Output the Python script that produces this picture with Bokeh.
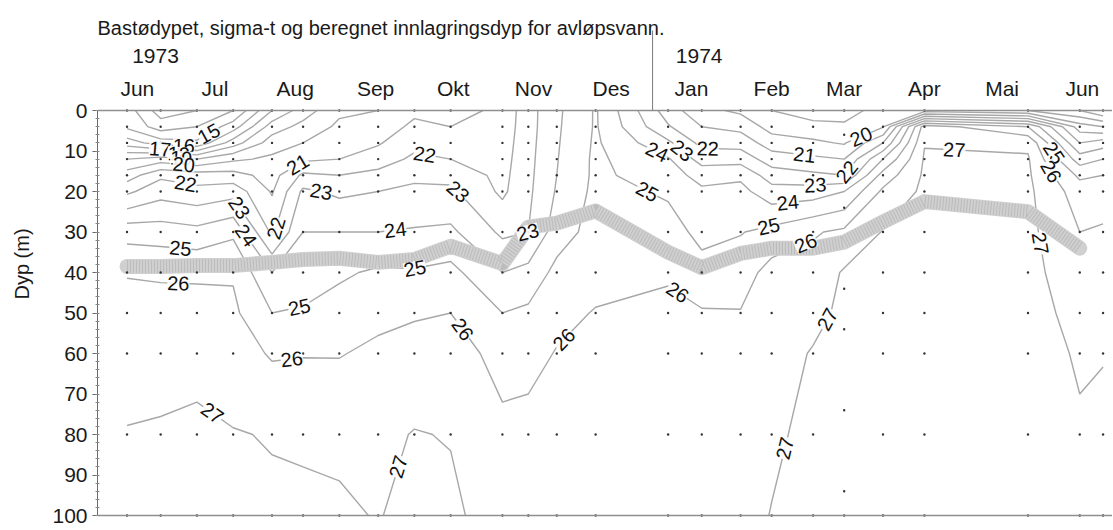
import numpy as np
from bokeh.plotting import figure
from bokeh.models import Range1d, FixedTicker, Span
from bokeh.core.properties import value
from bokeh.embed import file_html
from bokeh.resources import INLINE
from contourpy import contour_generator

# ---------------- data ----------------
station_dates = ["1973-06-12", "1973-06-25", "1973-07-09", "1973-07-23", "1973-08-07",
                 "1973-08-19", "1973-09-02", "1973-09-17", "1973-10-01", "1973-10-15",
                 "1973-11-04", "1973-11-14", "1973-11-25", "1973-12-10", "1974-01-07",
                 "1974-01-20", "1974-02-04", "1974-02-16", "1974-03-04", "1974-03-16",
                 "1974-03-31", "1974-04-16", "1974-05-26", "1974-06-15", "1974-06-24"]
depths = [0, 4, 8, 12, 16, 20, 30, 40, 50, 60, 80, 100]

# sigma-t per station (rows) at the depths above
sigma_t = [
    [14.5, 14.8, 16.5, 19.0, 20.5, 21.8, 24.6, 25.95, 26.3, 26.6, 27.05, 27.2],
    [12.5, 13.5, 15.5, 19.5, 21.8, 22.6, 24.5, 25.9, 26.3, 26.65, 27.1, 27.25],
    [13.0, 14.0, 15.2, 19.0, 21.5, 22.3, 24.3, 25.9, 26.25, 26.85, 27.1, 27.25],
    [14.0, 15.5, 17.5, 19.8, 21.4, 22.6, 24.8, 25.9, 26.2, 26.45, 27.05, 27.2],
    [17.0, 18.5, 19.5, 20.2, 20.6, 20.9, 21.8, 24.0, 25.0, 25.9, 26.95, 27.15],
    [18.5, 19.3, 20.0, 20.8, 22.2, 23.2, 24.0, 24.5, 25.1, 25.95, 26.9, 27.15],
    [19.8, 20.2, 20.6, 21.0, 22.0, 22.8, 24.0, 24.85, 25.4, 25.95, 26.8, 27.15],
    [20.0, 20.5, 20.9, 21.5, 22.3, 23.0, 24.0, 25.15, 25.75, 26.2, 26.75, 26.95],
    [20.8, 21.2, 21.7, 22.2, 22.8, 23.2, 24.1, 25.1, 25.92, 26.3, 27.05, 27.3],
    [20.5, 21.0, 21.6, 22.0, 22.7, 23.2, 24.2, 25.3, 26.0, 26.4, 26.95, 27.2],
    [21.3, 21.4, 21.5, 21.6, 21.7, 21.8, 22.8, 24.0, 25.0, 25.7, 26.2, 26.5],
    [22.6, 22.6, 22.65, 22.7, 22.75, 22.8, 23.0, 24.3, 25.2, 25.7, 26.3, 26.6],
    [23.8, 23.85, 23.9, 23.95, 24.0, 24.1, 24.5, 25.3, 25.75, 26.05, 26.5, 26.75],
    [25.1, 25.1, 25.15, 25.2, 25.2, 25.25, 25.4, 25.7, 26.05, 26.2, 26.5, 26.8],
    [21.5, 22.1, 23.2, 24.1, 24.5, 24.9, 25.3, 25.9, 26.2, 26.4, 26.6, 26.8],
    [20.3, 21.0, 21.7, 22.6, 23.6, 24.2, 24.8, 25.25, 26.1, 26.3, 26.6, 26.8],
    [19.8, 20.7, 21.6, 22.6, 23.8, 24.3, 24.95, 25.5, 26.05, 26.3, 26.6, 26.8],
    [19.0, 19.6, 20.5, 21.5, 22.5, 23.4, 25.3, 26.4, 26.5, 26.7, 26.9, 27.02],
    [18.5, 19.3, 20.2, 21.2, 22.2, 23.5, 25.9, 26.4, 26.8, 27.05, 27.15, 27.2],
    [18.5, 19.2, 19.9, 21.0, 22.0, 24.0, 26.2, 27.1, 27.15, 27.2, 27.25, 27.3],
    [19.5, 19.9, 22.0, 24.0, 25.4, 26.2, 27.05, 27.15, 27.2, 27.25, 27.3, 27.35],
    [19.5, 26.5, 26.95, 27.1, 27.15, 27.2, 27.25, 27.3, 27.3, 27.35, 27.4, 27.45],
    [19.0, 25.0, 26.8, 27.1, 27.15, 27.2, 27.25, 27.3, 27.35, 27.4, 27.45, 27.5],
    [18.0, 20.5, 22.0, 23.5, 24.8, 25.5, 26.0, 26.4, 26.7, 26.9, 27.1, 27.2],
    [17.0, 20.0, 22.5, 24.0, 25.0, 25.6, 26.1, 26.5, 26.75, 26.98, 27.1, 27.2],
]
contour_levels = list(range(13, 28))

# calculated intrusion depth of waste water (m)
band_dates = station_dates[:24]
band_depth = [38.5, 38.5, 38.3, 38.3, 37.5, 36.8, 36.5, 37.5, 36.8, 33.5, 37.8, 28.8,
              27.8, 24.8, 35.0, 38.8, 35.3, 34.0, 34.0, 32.5, 27.5, 22.5, 25.0, 34.0]

# one station sampled at other depths
odd_station = "1974-03-16"
odd_station_depths = [0, 6, 24, 44, 54, 74, 94, 100]

months = ["Jun", "Jul", "Aug", "Sep", "Okt", "Nov", "Des",
          "Jan", "Feb", "Mar", "Apr", "Mai", "Jun"]
month_dates = ["1973-06-16", "1973-07-16", "1973-08-16", "1973-09-16", "1973-10-16",
               "1973-11-16", "1973-12-16", "1974-01-16", "1974-02-16", "1974-03-16",
               "1974-04-16", "1974-05-16", "1974-06-16"]
years = ["1973", "1974"]
year_dates = ["1973-06-23", "1974-01-19"]
year_break = "1974-01-01"
depth_ticks = list(range(0, 101, 10))
title_text = "Bastødypet, sigma-t og beregnet innlagringsdyp for avløpsvann."

# contour label hints: level, day (rel. 1974-01-01), depth
label_levels = [17, 16, 15, 18, 19, 20, 22, 21, 23, 22, 23, 24, 23, 22, 21, 20, 22, 24, 23,
                27, 25, 26, 25, 26, 23, 24, 22, 24, 25, 25, 23, 25, 26, 25, 26, 26, 26, 26,
                27, 27, 27, 27, 27]
label_days = [-190, -181, -170, -183, -182, -181, -180, -137.5, -127.5, -87.7, -69.5, 1.2,
              11.6, 21.2, 58.3, 82.3, 77.6, 52.1, 63, 116.6, 155.7, 158.4, -182.3, -183.1,
              -160.3, -157.2, -141, -99.3, -136, -91.5, -47.1, -4.6, 12, 45.6, 57.9, -72.2,
              -34.4, -139, -166, 67.6, 46.7, -100, 149.9]
label_depths = [7.8, 7.8, 7.3, 9.7, 11.2, 12.7, 16.5, 12.9, 18.2, 9.7, 16.5, 10.9, 9.7, 11.4,
                12.9, 9.2, 16.5, 21.9, 20.0, 9.0, 10.2, 13.4, 33.3, 41.4, 24.3, 30.9, 29.9,
                29.9, 49.9, 40.1, 32.8, 23.1, 42.6, 30.7, 30.9, 53.5, 56.4, 63.7, 71.0, 51.6,
                82.7, 87.6, 32.8]

# ---------------- helpers ----------------
ORIGIN = np.datetime64("1974-01-01")


def day(d):
    return float((np.datetime64(d) - ORIGIN).astype(int))


x_st = np.array([day(d) for d in station_dates])
y_dep = np.array(depths, dtype=float)
Z = np.array(sigma_t, dtype=float).T  # (ny, nx)

W, H = 1112, 529
LEFT, BOTTOM = 97, 2
Y0PX = 110          # screen row of depth 0
SX = 2.589          # px per day
SY = 4.05           # px per metre
X0 = -214.4
X1 = X0 + (W - LEFT) / SX
YTOP = -Y0PX / SY
YBOT = YTOP + (H - BOTTOM) / SY


def row(px):
    """depth value that sits at a given screen row"""
    return (px - Y0PX) / SY


FONT = value("Liberation Sans")
INK = "#1a1a1a"

p = figure(width=W, height=H, output_backend="svg", toolbar_location=None,
           x_range=Range1d(X0, X1), y_range=Range1d(YBOT, YTOP),
           x_axis_type=None, min_border_left=LEFT, min_border_right=0,
           min_border_bottom=BOTTOM, min_border_top=0)
p.outline_line_color = None
p.grid.visible = False
p.background_fill_color = "white"

ya = p.yaxis[0]
ya.bounds = (0, 100)
ya.ticker = FixedTicker(ticks=depth_ticks, minor_ticks=list(range(0, 101, 2)))
ya.axis_label = "Dyp (m)"
ya.axis_label_text_font = "Liberation Sans"
ya.axis_label_text_font_size = "20px"
ya.axis_label_text_font_style = "normal"
ya.axis_label_text_color = INK
ya.axis_label_standoff = 16
ya.major_label_text_font = "Liberation Sans"
ya.major_label_text_font_size = "21px"
ya.major_label_text_color = INK
ya.major_label_standoff = 5
ya.major_tick_out = 5
ya.major_tick_in = 0
ya.minor_tick_out = 2
ya.minor_tick_in = 2
ya.axis_line_color = "#6a6a6a"
ya.major_tick_line_color = "#6a6a6a"
ya.minor_tick_line_color = "#8a8a8a"

# contour lines
p.contour(x=x_st, y=y_dep, z=Z, levels=contour_levels,
          line_color="#a8a8a8", line_width=1.4)

# surface and bottom lines
for loc in (0, 100):
    p.add_layout(Span(location=loc, dimension="width", line_color="#8f8f8f", line_width=1.5))

# intrusion depth band
bx = [day(d) for d in band_dates]
p.line(bx, band_depth, line_color="#d0d0d0", line_width=15,
       line_join="round", line_cap="round")
p.line(bx, band_depth, line_color="#a8a8a8", line_width=13, line_dash="1 2",
       line_join="round", line_alpha=0.5)

# sampling points
dx, dy = [], []
for d in station_dates:
    dd = odd_station_depths if d == odd_station else depths
    for z in dd:
        dx.append(day(d))
        dy.append(z)
p.scatter(dx, dy, size=2.4, color="#333333", line_color=None)

# contour labels placed on the computed contour lines
gen = contour_generator(x=x_st, y=y_dep, z=Z)
line_cache = {}
lx, ly, lt, la = [], [], [], []
for lev, hx, hy in zip(label_levels, label_days, label_depths):
    if lev not in line_cache:
        line_cache[lev] = gen.lines(lev)
    h = np.array([(hx - X0) * SX, hy * SY])
    best = None
    for seg in line_cache[lev]:
        P = np.column_stack([(seg[:, 0] - X0) * SX, seg[:, 1] * SY])
        for a, b in zip(P[:-1], P[1:]):
            ab = b - a
            L2 = float(ab @ ab)
            t = 0.0 if L2 == 0 else float(np.clip((h - a) @ ab / L2, 0, 1))
            q = a + t * ab
            dist = float(np.hypot(*(h - q)))
            if best is None or dist < best[0]:
                best = (dist, q, ab)
    if best is not None and best[0] < 40:
        q, ab = best[1], best[2]
        ang = np.arctan2(-ab[1], ab[0])
        if ang > np.pi / 2:
            ang -= np.pi
        elif ang <= -np.pi / 2:
            ang += np.pi
        lx.append(q[0] / SX + X0)
        ly.append(q[1] / SY)
        la.append(float(ang))
    else:
        lx.append(hx)
        ly.append(hy)
        la.append(0.0)
    lt.append(str(lev))

p.text(lx, ly, text=lt, angle=la, text_align="center", text_baseline="middle",
       text_font=FONT, text_font_size="20px", text_color="#111111",
       background_fill_color="white", background_fill_alpha=0.9)

# title, month and year labels above the surface line
p.text([X0], [row(27)], text=[title_text], text_align="left",
       text_baseline="alphabetic", text_font=FONT, text_font_size="20px", text_color=INK)
p.text([day(d) for d in month_dates], [row(88)] * len(months), text=months,
       text_align="center", text_baseline="middle", text_font=FONT,
       text_font_size="21px", text_color=INK)
p.text([day(d) for d in year_dates], [row(55)] * len(years), text=years,
       text_align="center", text_baseline="middle", text_font=FONT,
       text_font_size="21px", text_color=INK)
p.segment(x0=[day(year_break)], y0=[row(30)], x1=[day(year_break)], y1=[0],
          line_color="#7a7a7a", line_width=1)

open("out.html", "w").write(file_html(p, INLINE))
